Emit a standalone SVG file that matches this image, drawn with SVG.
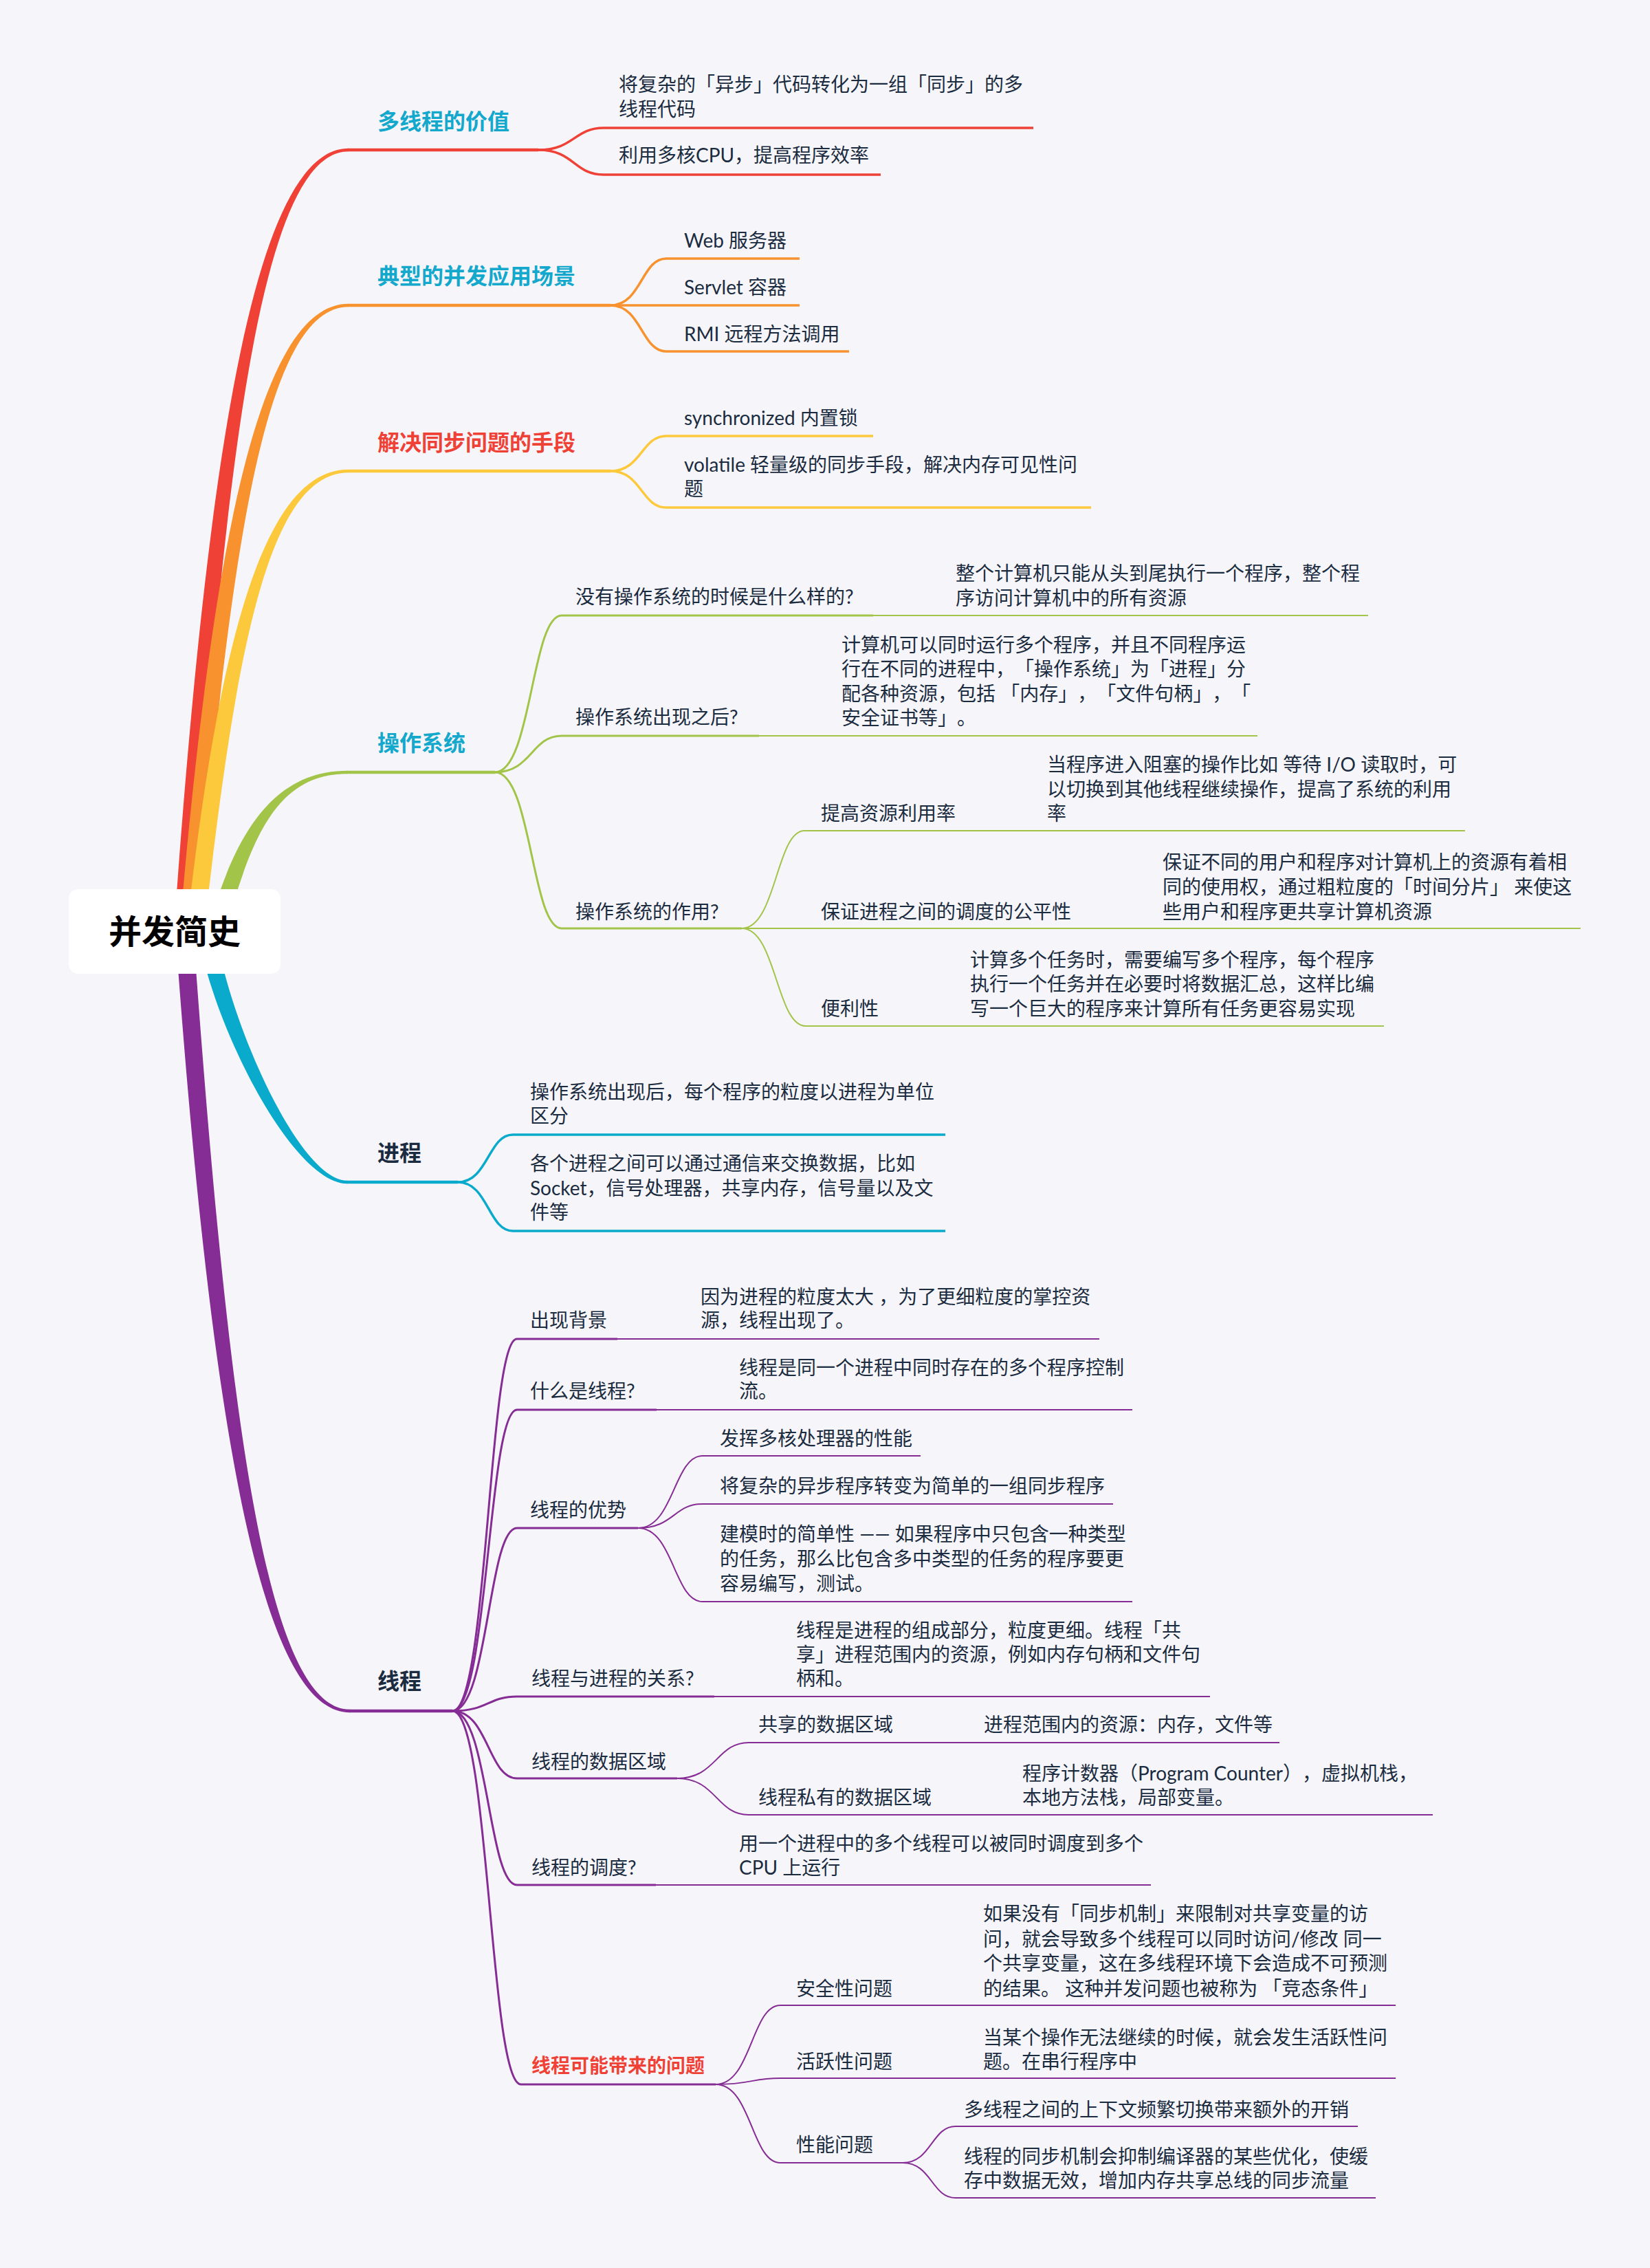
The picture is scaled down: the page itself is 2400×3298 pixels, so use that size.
<svg xmlns="http://www.w3.org/2000/svg" width="2400" height="3298" viewBox="0 0 2400 3298">
<style>
text{text-spacing-trim:space-all}
.t{font-family:Lato,"Noto Sans CJK SC",sans-serif;font-size:28px;fill:#1b2b40}
.lb{font-family:Lato,"Noto Sans CJK SC",sans-serif;font-size:32px;font-weight:700}
.cy{fill:#13a8cc}.rd{fill:#ef4136}.dk{fill:#1b2b40}
.rb{font-family:Lato,"Noto Sans CJK SC",sans-serif;font-size:28px;font-weight:700;fill:#ef4136}
.root{font-family:"Noto Sans CJK SC",sans-serif;font-size:48px;font-weight:700;fill:#000}
.c{fill:none;stroke-linecap:butt}
.r{stroke:#ef4136}.o{stroke:#f7922e}.y{stroke:#fdc93c}.g{stroke:#a2c449}.b{stroke:#0aaacd}.p{stroke:#862c95}
.w1{stroke-width:4.5}.w2{stroke-width:3.5}.w3{stroke-width:3}.w4{stroke-width:2}
</style>
<rect width="2400" height="3298" fill="#f6f6fa"/>
<g id="connectors">
 <!-- main tapered branches -->
 <path fill="#ef4136" d="M253,1354 C301,672 369,215.8 507,215.8 L507,220.2 C379,220.2 327,672 279,1354 Z"/>
 <path fill="#f7922e" d="M261,1354 C308,808 374,441.8 507,441.8 L507,446.2 C384,446.2 334,808 287,1354 Z"/>
 <path fill="#fdc93c" d="M271,1354 C316,953 379,682.8 507,682.8 L507,687.2 C389,687.2 342,953 297,1354 Z"/>
 <path fill="#a2c449" d="M302,1354 C340,1215 396,1120.8 505,1120.8 L505,1125.2 C404,1125.2 366,1215 328,1354 Z"/>
 <path fill="#0aaacd" d="M287,1354 C312,1500 428,1721.2 505,1721.2 L505,1716.8 C438,1716.8 338,1500 313,1354 Z"/>
 <path fill="#862c95" d="M255,1354 C304,2034 374,2490.2 509,2490.2 L509,2485.8 C384,2485.8 330,2034 281,1354 Z"/>
 <!-- main horizontals -->
 <path class="c r w1" d="M506,218 H783"/>
 <path class="c o w1" d="M506,444 H888"/>
 <path class="c y w1" d="M506,685 H888"/>
 <path class="c g w1" d="M504,1123 H720"/>
 <path class="c b w1" d="M504,1719 H666"/>
 <path class="c p w1" d="M508,2488 H658"/>
 <!-- red -->
 <path class="c r w2" d="M783,218 C835,218 835,186 878,186 H1503"/>
 <path class="c r w2" d="M783,218 C835,218 835,254 878,254 H1281"/>
 <!-- orange -->
 <path class="c o w2" d="M888,444 C933,444 933,376 969,376 H1163"/>
 <path class="c o w2" d="M888,444 H1163"/>
 <path class="c o w2" d="M888,444 C933,444 933,511 969,511 H1235"/>
 <!-- yellow -->
 <path class="c y w2" d="M888,685 C933,685 933,634 969,634 H1270"/>
 <path class="c y w2" d="M888,685 C933,685 933,738 969,738 H1587"/>
 <!-- green -->
 <path class="c g w3" d="M720,1123 C773,1123 773,895 817,895 H1270"/>
 <path class="c g w4" d="M1270,895 H1990"/>
 <path class="c g w3" d="M720,1123 C773,1123 773,1070 817,1070 H1104"/>
 <path class="c g w4" d="M1104,1070 H1829"/>
 <path class="c g w3" d="M720,1123 C773,1123 773,1350 817,1350 H1079"/>
 <path class="c g w4" d="M1079,1350 C1129,1350 1129,1208 1170,1208 H2131"/>
 <path class="c g w4" d="M1079,1350 H2299"/>
 <path class="c g w4" d="M1079,1350 C1129,1350 1129,1492 1172,1492 H2013"/>
 <!-- cyan -->
 <path class="c b w2" d="M666,1719 C710,1719 710,1650 746,1650 H1375"/>
 <path class="c b w2" d="M666,1719 C710,1719 710,1790 746,1790 H1375"/>
 <!-- purple level 2 -->
 <path class="c p w3" d="M658,2488 C710,2488 710,1947 752,1947 H898"/>
 <path class="c p w4" d="M898,1947 H1599"/>
 <path class="c p w3" d="M658,2488 C710,2488 710,2050 752,2050 H955"/>
 <path class="c p w4" d="M955,2050 H1647"/>
 <path class="c p w3" d="M658,2488 C710,2488 710,2222 752,2222 H928"/>
 <path class="c p w3" d="M658,2488 C710,2488 710,2467 752,2467 H1039"/>
 <path class="c p w4" d="M1039,2467 H1760"/>
 <path class="c p w3" d="M658,2488 C710,2488 710,2586 752,2586 H985"/>
 <path class="c p w3" d="M658,2488 C710,2488 710,2741 752,2741 H954"/>
 <path class="c p w4" d="M954,2741 H1674"/>
 <path class="c p w3" d="M658,2488 C712,2488 712,3031 758,3031 H1041"/>
 <!-- purple level 3 -->
 <path class="c p w4" d="M928,2222 C980,2222 980,2117 1022,2117 H1339"/>
 <path class="c p w4" d="M928,2222 C980,2222 980,2187 1022,2187 H1619"/>
 <path class="c p w4" d="M928,2222 C980,2222 980,2329 1022,2329 H1647"/>
 <path class="c p w4" d="M985,2586 C1042,2586 1042,2534 1089,2534 H1861"/>
 <path class="c p w4" d="M985,2586 C1042,2586 1042,2639 1089,2639 H2084"/>
 <path class="c p w4" d="M1041,3031 C1093,3031 1093,2916 1135,2916 H2030"/>
 <path class="c p w4" d="M1041,3031 C1093,3031 1093,3022 1135,3022 H2030"/>
 <path class="c p w4" d="M1041,3031 C1093,3031 1093,3145 1135,3145 H1313"/>
 <path class="c p w4" d="M1313,3145 C1355,3145 1355,3092 1390,3092 H1975"/>
 <path class="c p w4" d="M1313,3145 C1355,3145 1355,3196 1390,3196 H2001"/>
</g>
<g id="root">
 <rect x="100" y="1293" width="308" height="123" rx="14" fill="#ffffff"/>
 <text class="root" x="254" y="1372" text-anchor="middle">并发简史</text>
</g>
<g id="n-value">
 <text class="lb cy" x="549" y="188">多线程的价值</text>
 <text class="t" x="900" y="133">将复杂的「异步」代码转化为一组「同步」的多</text>
 <text class="t" x="900" y="169">线程代码</text>
 <text class="t" x="900" y="236">利用多核CPU，提高程序效率</text>
</g>
<g id="n-scene">
 <text class="lb cy" x="549" y="413">典型的并发应用场景</text>
 <text class="t" x="995" y="360">Web 服务器</text>
 <text class="t" x="995" y="428">Servlet 容器</text>
 <text class="t" x="995" y="496">RMI 远程方法调用</text>
</g>
<g id="n-sync">
 <text class="lb rd" x="549" y="655">解决同步问题的手段</text>
 <text class="t" x="995" y="618">synchronized 内置锁</text>
 <text class="t" x="995" y="686">volatile 轻量级的同步手段，解决内存可见性问</text>
 <text class="t" x="995" y="721">题</text>
</g>
<g id="n-os">
 <text class="lb cy" x="549" y="1092">操作系统</text>
 <text class="t" x="837" y="878">没有操作系统的时候是什么样的?</text>
 <text class="t" x="1390" y="844">整个计算机只能从头到尾执行一个程序，整个程</text>
 <text class="t" x="1390" y="880">序访问计算机中的所有资源</text>
 <text class="t" x="837" y="1053">操作系统出现之后?</text>
 <text class="t" x="1224" y="948">计算机可以同时运行多个程序，并且不同程序运</text>
 <text class="t" x="1224" y="983">行在不同的进程中，「操作系统」为「进程」分</text>
 <text class="t" x="1224" y="1019">配各种资源，包括 「内存」，「文件句柄」，「</text>
 <text class="t" x="1224" y="1054">安全证书等」。</text>
 <text class="t" x="837" y="1336">操作系统的作用?</text>
 <text class="t" x="1194" y="1193">提高资源利用率</text>
 <text class="t" x="1523" y="1122">当程序进入阻塞的操作比如 等待 I/O 读取时，可</text>
 <text class="t" x="1523" y="1158">以切换到其他线程继续操作，提高了系统的利用</text>
 <text class="t" x="1523" y="1193">率</text>
 <text class="t" x="1194" y="1336">保证进程之间的调度的公平性</text>
 <text class="t" x="1691" y="1264">保证不同的用户和程序对计算机上的资源有着相</text>
 <text class="t" x="1691" y="1300">同的使用权，通过粗粒度的「时间分片」 来使这</text>
 <text class="t" x="1691" y="1336">些用户和程序更共享计算机资源</text>
 <text class="t" x="1194" y="1477">便利性</text>
 <text class="t" x="1411" y="1406">计算多个任务时，需要编写多个程序，每个程序</text>
 <text class="t" x="1411" y="1441">执行一个任务并在必要时将数据汇总，这样比编</text>
 <text class="t" x="1411" y="1477">写一个巨大的程序来计算所有任务更容易实现</text>
</g>
<g id="n-process">
 <text class="lb dk" x="549" y="1688">进程</text>
 <text class="t" x="771" y="1598">操作系统出现后，每个程序的粒度以进程为单位</text>
 <text class="t" x="771" y="1633">区分</text>
 <text class="t" x="771" y="1702">各个进程之间可以通过通信来交换数据，比如</text>
 <text class="t" x="771" y="1738">Socket，信号处理器，共享内存，信号量以及文</text>
 <text class="t" x="771" y="1773">件等</text>
</g>
<g id="n-thread">
 <text class="lb dk" x="549" y="2456">线程</text>
 <text class="t" x="771" y="1930">出现背景</text>
 <text class="t" x="1019" y="1896">因为进程的粒度太大 ，为了更细粒度的掌控资</text>
 <text class="t" x="1019" y="1930">源，线程出现了。</text>
 <text class="t" x="771" y="2033">什么是线程?</text>
 <text class="t" x="1075" y="1999">线程是同一个进程中同时存在的多个程序控制</text>
 <text class="t" x="1075" y="2033">流。</text>
 <text class="t" x="771" y="2206">线程的优势</text>
 <text class="t" x="1047" y="2102">发挥多核处理器的性能</text>
 <text class="t" x="1047" y="2171">将复杂的异步程序转变为简单的一组同步程序</text>
 <text class="t" x="1047" y="2241">建模时的简单性 —— 如果程序中只包含一种类型</text>
 <text class="t" x="1047" y="2277">的任务，那么比包含多中类型的任务的程序要更</text>
 <text class="t" x="1047" y="2313">容易编写，测试。</text>
 <text class="t" x="773" y="2451">线程与进程的关系?</text>
 <text class="t" x="1158" y="2381">线程是进程的组成部分，粒度更细。线程「共</text>
 <text class="t" x="1158" y="2416">享」进程范围内的资源，例如内存句柄和文件句</text>
 <text class="t" x="1158" y="2451">柄和。</text>
 <text class="t" x="773" y="2572">线程的数据区域</text>
 <text class="t" x="1103" y="2518">共享的数据区域</text>
 <text class="t" x="1431" y="2518">进程范围内的资源：内存，文件等</text>
 <text class="t" x="1103" y="2624">线程私有的数据区域</text>
 <text class="t" x="1487" y="2589">程序计数器（Program Counter），虚拟机栈，</text>
 <text class="t" x="1487" y="2624">本地方法栈，局部变量。</text>
 <text class="t" x="773" y="2726">线程的调度?</text>
 <text class="t" x="1075" y="2691">用一个进程中的多个线程可以被同时调度到多个</text>
 <text class="t" x="1075" y="2726">CPU 上运行</text>
 <text class="rb" x="773" y="3014">线程可能带来的问题</text>
 <text class="t" x="1158" y="2902">安全性问题</text>
 <text class="t" x="1430" y="2793">如果没有「同步机制」来限制对共享变量的访</text>
 <text class="t" x="1430" y="2830">问，就会导致多个线程可以同时访问/修改 同一</text>
 <text class="t" x="1430" y="2865">个共享变量，这在多线程环境下会造成不可预测</text>
 <text class="t" x="1430" y="2902">的结果。 这种并发问题也被称为 「竞态条件」</text>
 <text class="t" x="1158" y="3008">活跃性问题</text>
 <text class="t" x="1430" y="2973">当某个操作无法继续的时候，就会发生活跃性问</text>
 <text class="t" x="1430" y="3008">题。在串行程序中</text>
 <text class="t" x="1158" y="3129">性能问题</text>
 <text class="t" x="1402" y="3078">多线程之间的上下文频繁切换带来额外的开销</text>
 <text class="t" x="1402" y="3146">线程的同步机制会抑制编译器的某些优化，使缓</text>
 <text class="t" x="1402" y="3181">存中数据无效，增加内存共享总线的同步流量</text>
</g>
</svg>
